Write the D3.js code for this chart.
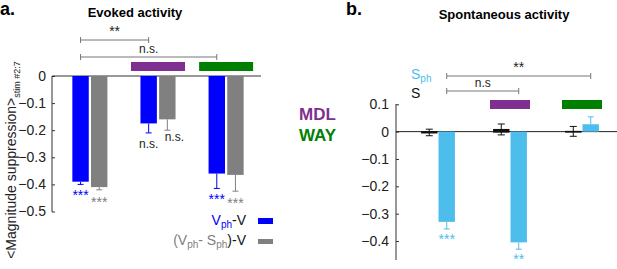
<!DOCTYPE html>
<html>
<head>
<meta charset="utf-8">
<script src="https://cdn.jsdelivr.net/npm/d3@7"></script>
<style>
  body { margin: 0; background: #fff; }
  svg { display: block; font-family: "Liberation Sans", Arial, sans-serif; }
</style>
</head>
<body>
<div id="chart"></div>
<script>
// ---- data ----
const groups = ["control", "MDL", "WAY"];
const drugs = ["MDL", "WAY"];

// panel a: evoked activity
const vphV = [-0.39, -0.175, -0.36];
const vphVErr = [0.01, 0.035, 0.055];
const vphSphV = [-0.41, -0.16, -0.365];
const vphSphVErr = [0.01, 0.04, 0.06];
const starsVphV = ["***", "n.s.", "***"];
const starsVphSphV = ["***", "n.s.", "***"];
const ticksA = [0, -0.1, -0.2, -0.3, -0.4, -0.5];

// panel b: spontaneous activity
const sVals = [-0.003, 0.008, 0.001];
const sErr = [0.012, 0.02, 0.018];
const sphVals = [-0.33, -0.405, 0.027];
const sphErr = [0.026, 0.025, 0.027];
const starsSph = ["***", "**", ""];
const ticksB = [0.1, 0, -0.1, -0.2, -0.3, -0.4];

// significance brackets [from group, to group, label]
const sigA = [[0, 1, "**"], [0, 2, "n.s."]];
const sigB = [[0, 2, "**"], [0, 1, "n.s"]];

const BLUE = "#0000ff", GRAY = "#808080", PURPLE = "#7f2f8f", GREEN = "#008000",
      LIGHT = "#4dbdec", DARK = "#111";

const svg = d3.select("#chart").append("svg")
    .attr("width", 617).attr("height", 269);

// ---------- panel a ----------
const ya = d3.scaleLinear().domain([-0.5, 0]).range([211.5, 76]);
const xa = d3.scaleBand().domain(groups).range([56, 260]).paddingInner(0.485).paddingOuter(0.24);
const subA = d3.scaleBand().domain(["vph", "vphsph"]).range([0, xa.bandwidth()]).paddingInner(0.12);

svg.append("text").attr("x", 0).attr("y", 15)
    .attr("font-size", 18).attr("font-weight", "bold").text("a.");
svg.append("text").attr("x", 135).attr("y", 17).attr("text-anchor", "middle")
    .attr("font-size", 13).attr("font-weight", "bold").text("Evoked activity");

const axA = svg.append("g").attr("transform", "translate(52,0)")
    .call(d3.axisRight(ya).tickValues(ticksA).tickSize(3).tickFormat(d => d === 0 ? "0" : d3.format(".1f")(d)));
axA.select(".domain").attr("d", "M0,76V212").attr("stroke", "#333");
axA.selectAll("text").attr("x", -6).attr("text-anchor", "end").attr("font-size", 14)
    .attr("fill", "#222").attr("font-family", "Liberation Sans, Arial, sans-serif");
axA.selectAll(".tick line").attr("stroke", "#333");
svg.append("line").attr("x1", 52).attr("x2", 261).attr("y1", ya(0)).attr("y2", ya(0))
    .attr("stroke", "#333");

const ylab = svg.append("text").attr("transform", "translate(16,160) rotate(-90)")
    .attr("text-anchor", "middle").attr("font-size", 14).attr("fill", "#222");
ylab.append("tspan").text("<Magnitude suppression>");
ylab.append("tspan").attr("font-size", 9).attr("dy", 4).text("stim #2:7");

function drawBars(x, sub, y, key, vals, errs, color, errColor) {
  const g = svg.append("g");
  groups.forEach((grp, i) => {
    const bx = x(grp) + sub(key), bw = sub.bandwidth();
    const v = vals[i];
    g.append("rect").attr("x", bx).attr("width", bw)
        .attr("y", y(Math.max(0, v))).attr("height", Math.abs(y(v) - y(0)))
        .attr("fill", color);
    const cx = bx + bw / 2;
    const end = v + (v < 0 ? -errs[i] : errs[i]);
    g.append("line").attr("x1", cx).attr("x2", cx).attr("y1", y(v)).attr("y2", y(end))
        .attr("stroke", errColor).attr("stroke-width", 1);
    g.append("line").attr("x1", cx - 3).attr("x2", cx + 3).attr("y1", y(end)).attr("y2", y(end))
        .attr("stroke", errColor).attr("stroke-width", 1);
  });
}
drawBars(xa, subA, ya, "vph", vphV, vphVErr, BLUE, BLUE);
drawBars(xa, subA, ya, "vphsph", vphSphV, vphSphVErr, GRAY, GRAY);

// star labels panel a
groups.forEach((grp, i) => {
  const c1 = xa(grp) + subA("vph") + subA.bandwidth() / 2;
  const c2 = xa(grp) + subA("vphsph") + subA.bandwidth() / 2;
  const ns = starsVphV[i] === "n.s.";
  svg.append("text").attr("x", c1).attr("y", ns ? 148 : ya(vphV[i] - vphVErr[i]) + 16)
      .attr("text-anchor", "middle").attr("font-size", ns ? 12 : 14)
      .attr("fill", ns ? "#222" : BLUE).text(starsVphV[i]);
  svg.append("text").attr("x", c2 + (ns ? 7 : 0)).attr("y", ns ? 141 : ya(vphSphV[i] - vphSphVErr[i]) + 17)
      .attr("text-anchor", "middle").attr("font-size", ns ? 12 : 14)
      .attr("fill", ns ? "#222" : GRAY).text(starsVphSphV[i]);
});

function bracket(x1, x2, yy, label, fs) {
  const g = svg.append("g").attr("stroke", "#777").attr("stroke-width", 1);
  g.append("line").attr("x1", x1).attr("x2", x2).attr("y1", yy).attr("y2", yy);
  g.append("line").attr("x1", x1).attr("x2", x1).attr("y1", yy - 3).attr("y2", yy + 3);
  g.append("line").attr("x1", x2).attr("x2", x2).attr("y1", yy - 3).attr("y2", yy + 3);
  svg.append("text").attr("x", (x1 + x2) / 2).attr("y", yy - 4).attr("text-anchor", "middle")
      .attr("font-size", fs).attr("fill", "#222").text(label);
}
const cA = i => xa(groups[i]) + subA("vph") + subA.bandwidth() / 2;
bracket(cA(sigA[0][0]), cA(sigA[0][1]), 40, sigA[0][2], 14);
bracket(cA(sigA[1][0]), cA(sigA[1][1]), 57, sigA[1][2], 12);

// drug bars panel a
drugs.forEach((d, i) => {
  const c = xa(d) + xa.bandwidth() / 2;
  svg.append("rect").attr("x", c - 27).attr("width", 54).attr("y", 62).attr("height", 9)
      .attr("fill", i === 0 ? PURPLE : GREEN);
});

// legend a
const lg1 = svg.append("text").attr("x", 246).attr("y", 225).attr("text-anchor", "end")
    .attr("font-size", 14);
lg1.append("tspan").attr("fill", BLUE).text("V");
lg1.append("tspan").attr("fill", BLUE).attr("font-size", 10).attr("dy", 3).text("ph");
lg1.append("tspan").attr("fill", "#111").attr("dy", -3).text("-V");
svg.append("rect").attr("x", 258).attr("y", 218).attr("width", 15).attr("height", 6).attr("fill", BLUE);

const lg2 = svg.append("text").attr("x", 246).attr("y", 245).attr("text-anchor", "end")
    .attr("font-size", 14).attr("fill", GRAY);
lg2.append("tspan").text("(V");
lg2.append("tspan").attr("font-size", 10).attr("dy", 3).text("ph");
lg2.append("tspan").attr("dy", -3).text("- S");
lg2.append("tspan").attr("font-size", 10).attr("dy", 3).text("ph");
lg2.append("tspan").attr("dy", -3).attr("fill", "#111").text(")-V");
svg.append("rect").attr("x", 258).attr("y", 239).attr("width", 15).attr("height", 5).attr("fill", GRAY);

// drug labels
svg.append("text").attr("x", 299).attr("y", 120).attr("font-size", 17).attr("font-weight", "bold")
    .attr("fill", PURPLE).text(drugs[0]);
svg.append("text").attr("x", 299).attr("y", 141).attr("font-size", 17).attr("font-weight", "bold")
    .attr("fill", GREEN).text(drugs[1]);

// ---------- panel b ----------
const yb = d3.scaleLinear().domain([-0.4, 0.1]).range([241, 104.3]);
const xb = d3.scaleBand().domain(groups).range([402, 618]).paddingInner(0.53).paddingOuter(0.265);
const subB = d3.scaleBand().domain(["s", "sph"]).range([0, xb.bandwidth()]).paddingInner(0.06);

svg.append("text").attr("x", 346).attr("y", 15)
    .attr("font-size", 18).attr("font-weight", "bold").text("b.");
svg.append("text").attr("x", 504).attr("y", 19).attr("text-anchor", "middle")
    .attr("font-size", 13).attr("font-weight", "bold").text("Spontaneous activity");

const axB = svg.append("g").attr("transform", "translate(396,0)")
    .call(d3.axisRight(yb).tickValues(ticksB).tickSize(3).tickFormat(d => d === 0 ? "0" : d3.format(".1f")(d)));
axB.select(".domain").attr("d", "M0,104V260").attr("stroke", "#333");
axB.selectAll("text").attr("x", -7).attr("text-anchor", "end").attr("font-size", 14)
    .attr("fill", "#222").attr("font-family", "Liberation Sans, Arial, sans-serif");
axB.selectAll(".tick line").attr("stroke", "#333");
svg.append("line").attr("x1", 396).attr("x2", 617).attr("y1", yb(0)).attr("y2", yb(0))
    .attr("stroke", "#222");

drawBars(xb, subB, yb, "sph", sphVals, sphErr, LIGHT, LIGHT);
// S bars with two-sided error bars
groups.forEach((grp, i) => {
  const bx = xb(grp) + subB("s"), bw = subB.bandwidth(), v = sVals[i];
  svg.append("rect").attr("x", bx).attr("width", bw)
      .attr("y", Math.min(yb(v), yb(0)) - 0.5).attr("height", Math.abs(yb(v) - yb(0)) + 1.5)
      .attr("fill", DARK);
  const cx = bx + bw / 2, lo = yb(v - sErr[i]), hi = yb(v + sErr[i]);
  const g = svg.append("g").attr("stroke", DARK).attr("stroke-width", 1);
  g.append("line").attr("x1", cx).attr("x2", cx).attr("y1", lo).attr("y2", hi);
  g.append("line").attr("x1", cx - 3.5).attr("x2", cx + 3.5).attr("y1", lo).attr("y2", lo);
  g.append("line").attr("x1", cx - 3.5).attr("x2", cx + 3.5).attr("y1", hi).attr("y2", hi);
});
groups.forEach((grp, i) => {
  if (!starsSph[i]) return;
  const c = xb(grp) + subB("sph") + subB.bandwidth() / 2;
  svg.append("text").attr("x", c).attr("y", yb(sphVals[i] - sphErr[i]) + 15)
      .attr("text-anchor", "middle").attr("font-size", 14).attr("fill", LIGHT).text(starsSph[i]);
});

const cB = i => xb(groups[i]) + subB("sph") + subB.bandwidth() / 2;
bracket(cB(sigB[0][0]), cB(sigB[0][1]), 76, sigB[0][2], 14);
bracket(cB(sigB[1][0]), cB(sigB[1][1]), 91, sigB[1][2], 12);

drugs.forEach((d, i) => {
  const c = xb(d) + xb.bandwidth() / 2;
  svg.append("rect").attr("x", c - 20).attr("width", 40).attr("y", 100).attr("height", 9)
      .attr("fill", i === 0 ? PURPLE : GREEN);
});

// legend b
const lb1 = svg.append("text").attr("x", 411).attr("y", 79).attr("font-size", 14).attr("fill", LIGHT);
lb1.append("tspan").text("S");
lb1.append("tspan").attr("font-size", 10).attr("dy", 3).text("ph");
svg.append("text").attr("x", 411).attr("y", 98).attr("font-size", 14).attr("fill", "#111").text("S");
</script>
</body>
</html>
